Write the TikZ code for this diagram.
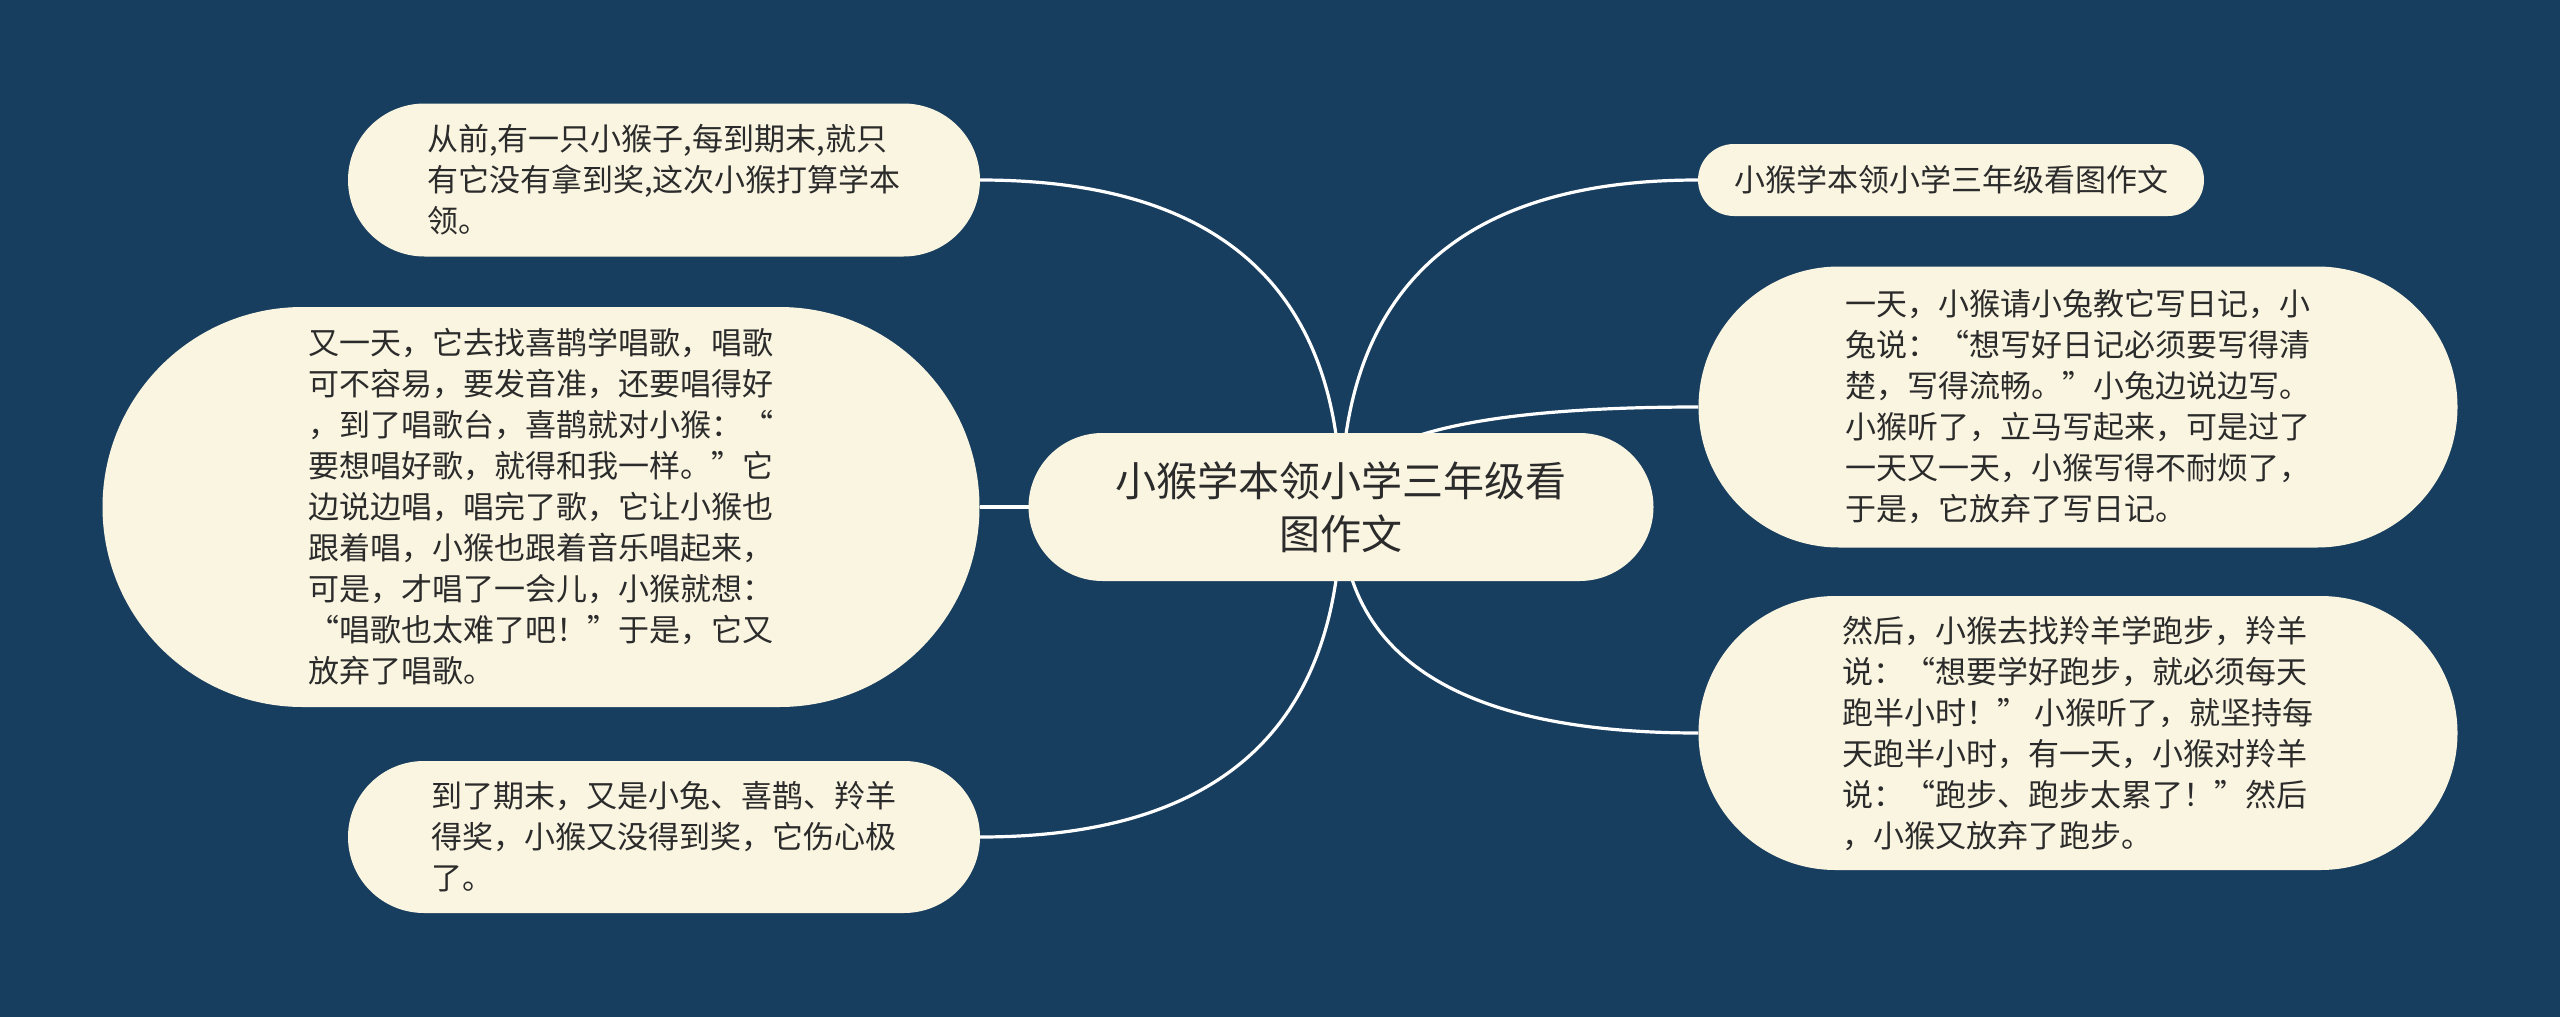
\documentclass[tikz,border=0pt]{standalone}
\usepackage{fontspec}
\setmainfont{Noto Sans CJK SC}
\usetikzlibrary{positioning, shapes.misc, calc}
\definecolor{bgblue}{HTML}{183E5F}
\definecolor{cream}{HTML}{FAF5E1}
\definecolor{ink}{HTML}{2B2B2B}
\pgfdeclarelayer{back}
\pgfdeclarelayer{links}
\pgfsetlayers{back,links,main}

\begin{document}
\begin{tikzpicture}[x=1pt, y=-1pt, on grid,
  bubble/.style={rounded rectangle, fill=cream, text=ink, inner sep=0pt, align=left, font=\fontsize{31}{41}\selectfont},
  branch/.style={draw=white, line width=3.2pt, to path={.. controls ($(\tikztostart)!2/3!(\tikztostart |- \tikztotarget)$) and ($(\tikztotarget)!2/3!(\tikztostart |- \tikztotarget)$) .. (\tikztotarget)}}]
  \useasboundingbox (0,0) rectangle (2560,1017);
  \begin{pgfonlayer}{back}
    \fill[bgblue] (0,0) rectangle (2560,1017);
  \end{pgfonlayer}
  \node[bubble, align=center, minimum width=625pt, minimum height=148pt, font=\fontsize{41}{53}\selectfont] (root) at (1341,507) {小猴学本领小学三年级看\\图作文};
  \node[bubble, minimum width=632pt, minimum height=153pt] (l1) [above left=327pt and 677pt of root] {从前,有一只小猴子,每到期末,就只\\有它没有拿到奖,这次小猴打算学本\\领。};
  \node[bubble, minimum width=877pt, minimum height=400pt] (l2) [left=800pt of root] {又一天，它去找喜鹊学唱歌，唱歌\\可不容易，要发音准，还要唱得好\\，到了唱歌台，喜鹊就对小猴：“\\要想唱好歌，就得和我一样。”它\\边说边唱，唱完了歌，它让小猴也\\跟着唱，小猴也跟着音乐唱起来，\\可是，才唱了一会儿，小猴就想：\\“唱歌也太难了吧！”于是，它又\\放弃了唱歌。};
  \node[bubble, minimum width=632pt, minimum height=152pt] (l3) [below left=330pt and 677pt of root] {到了期末，又是小兔、喜鹊、羚羊\\得奖，小猴又没得到奖，它伤心极\\了。};
  \node[bubble, minimum width=506pt, minimum height=72pt] (r1) [above right=327pt and 610pt of root] {小猴学本领小学三年级看图作文};
  \node[bubble, minimum width=759pt, minimum height=281pt] (r2) [above right=100pt and 737pt of root] {一天，小猴请小兔教它写日记，小\\兔说：“想写好日记必须要写得清\\楚，写得流畅。”小兔边说边写。\\小猴听了，立马写起来，可是过了\\一天又一天，小猴写得不耐烦了，\\于是，它放弃了写日记。};
  \node[bubble, minimum width=759pt, minimum height=274pt] (r3) [below right=226pt and 737pt of root] {然后，小猴去找羚羊学跑步，羚羊\\说：“想要学好跑步，就必须每天\\跑半小时！” 小猴听了，就坚持每\\天跑半小时，有一天，小猴对羚羊\\说：“跑步、跑步太累了！”然后\\，小猴又放弃了跑步。};
  \begin{pgfonlayer}{links}
    \path (root.center) edge[branch] (l1.east)
                        edge[branch] (l2.east)
                        edge[branch] (l3.east)
                        edge[branch] (r1.west)
                        edge[branch] (r2.west)
                        edge[branch] (r3.west);
  \end{pgfonlayer}
\end{tikzpicture}
\end{document}
